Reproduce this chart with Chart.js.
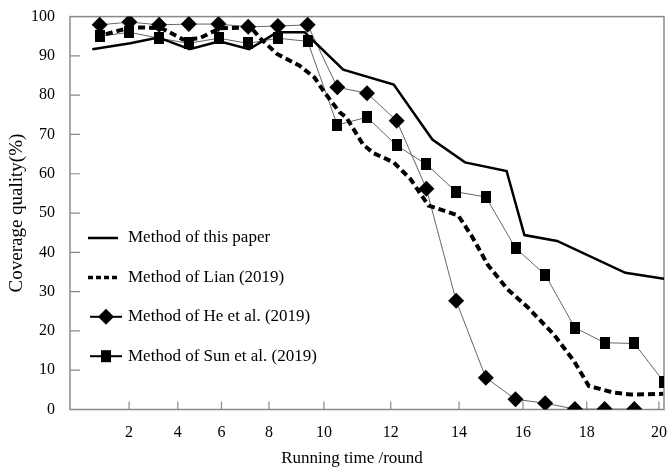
<!DOCTYPE html>
<html>
<head>
<meta charset="utf-8">
<script src="https://cdn.jsdelivr.net/npm/chart.js@4.4.0/dist/chart.umd.min.js"></script>
<style>
html, body { margin: 0; padding: 0; background: #fff; }
</style>
</head>
<body>
<canvas id="chart" width="672" height="469"></canvas>
<script>
// x in rounds, y in %
const paperX = [0.75, 2.03, 2.97, 4.03, 5.03, 6.03, 6.97, 7.9, 9.2, 10.9, 12.2, 13.3, 14.7, 15.3, 16.4, 18.7, 20];
const paperY = [91.7, 93.2, 94.7, 91.7, 93.7, 91.7, 96, 96, 86.5, 82.7, 68.7, 62.9, 60.7, 44.4, 42.9, 34.8, 33.3];

const lianX = [0.85, 1.67, 2.1, 2.57, 3.1, 3.8, 4.37, 5.03, 5.73, 6.1, 6.4, 6.97, 7.73, 8.23, 8.57, 9.07, 9.3,
  9.87, 10.23, 10.9, 11.47, 12.07, 13.07, 13.53, 14.07, 14.73, 15.4, 16.3, 16.97, 17.47, 18.3, 18.87, 19.97];
const lianY = [94.8, 96.5, 97.2, 97.2, 97, 94.2, 94.5, 97, 97.2, 97.2, 94.5, 90.5, 87.5, 84.5, 80.7, 75.7, 74.4,
  67.4, 65.2, 62.9, 58.6, 51.9, 49.4, 44.1, 36.8, 30.6, 26.1, 19, 12.3, 6, 4.3, 3.8, 4];

const heRounds = [1, 2, 3, 4, 5, 6, 7, 8, 9, 10, 11, 12, 13, 14, 15, 16, 17, 18, 19];
const heY = [97.9, 98.6, 97.9, 98.1, 98.1, 97.4, 97.6, 97.9, 82, 80.5, 73.5, 56.2, 27.7, 8.1, 2.6, 1.6, 0.1, 0.1, 0.1];

const sunRounds = [1, 2, 3, 4, 5, 6, 7, 8, 9, 10, 11, 12, 13, 14, 15, 16, 17, 18, 19, 20];
const sunY = [95, 96, 94.5, 93.2, 94.5, 93.2, 94.5, 93.7, 72.4, 74.4, 67.2, 62.4, 55.4, 54.1, 41.1, 34.3, 20.8, 17, 16.8, 7];

const labels = ['Method of this paper', 'Method of Lian (2019)', 'Method of He et al. (2019)', 'Method of Sun et al. (2019)'];

// the x axis of the original figure is not evenly ticked
const xTickValues = [1.99, 3.63, 5.1, 6.7, 8.55, 10.8, 13.1, 15.25, 17.4, 19.83];
const xTickLabels = ['2', '4', '6', '8', '10', '12', '14', '16', '18', '20'];
const yTickValues = [10, 20, 30, 40, 50, 60, 70, 80, 90];

const serif = '"Liberation Serif", "Times New Roman", serif';

function pairs(xs, ys) {
  return xs.map((x, i) => ({ x: x, y: ys[i] }));
}

// tall black square marker
const squareMark = document.createElement('canvas');
squareMark.width = 10;
squareMark.height = 12;
squareMark.getContext('2d').fillRect(0, 0, 10, 12);

const framePlugin = {
  id: 'frame',
  beforeDatasetsDraw(chart) {
    const { ctx, chartArea: a, scales } = chart;
    ctx.save();
    ctx.strokeStyle = '#8a8a8a';
    ctx.lineWidth = 1.5;
    ctx.strokeRect(a.left, a.top, a.right - a.left, a.bottom - a.top);

    ctx.lineWidth = 1.2;
    ctx.beginPath();
    yTickValues.forEach(v => {
      const y = scales.y.getPixelForValue(v);
      ctx.moveTo(a.left, y);
      ctx.lineTo(a.left + 10, y);
    });
    xTickValues.forEach(v => {
      const x = scales.x.getPixelForValue(v);
      ctx.moveTo(x, a.bottom);
      ctx.lineTo(x, a.bottom - 8);
    });
    ctx.stroke();

    ctx.fillStyle = '#000';
    ctx.font = '16px ' + serif;
    ctx.textAlign = 'center';
    ctx.textBaseline = 'middle';
    xTickValues.forEach((v, i) => {
      ctx.fillText(xTickLabels[i], scales.x.getPixelForValue(v), a.bottom + 23);
    });
    ctx.font = '17px ' + serif;
    ctx.fillText('Running time /round', 352, a.bottom + 49);
    ctx.restore();
  },
  afterDatasetsDraw(chart) {
    const { ctx, chartArea: a } = chart;
    const x0 = a.left + 18;
    ctx.save();
    ctx.font = '17px ' + serif;
    ctx.fillStyle = '#000';
    ctx.strokeStyle = '#000';
    ctx.textBaseline = 'middle';
    labels.forEach((txt, i) => {
      const y = 238 + i * 39.4;
      ctx.beginPath();
      if (i === 0) {
        ctx.lineWidth = 2.5;
        ctx.moveTo(x0, y); ctx.lineTo(x0 + 30, y);
      } else if (i === 1) {
        ctx.lineWidth = 3.5;
        ctx.setLineDash([5, 3]);
        ctx.moveTo(x0, y); ctx.lineTo(x0 + 31, y);
      } else {
        ctx.lineWidth = 2;
        ctx.moveTo(x0 + 2, y); ctx.lineTo(x0 + 34, y);
      }
      ctx.stroke();
      ctx.setLineDash([]);
      if (i === 2) {
        ctx.beginPath();
        ctx.moveTo(x0 + 18, y - 8); ctx.lineTo(x0 + 26, y);
        ctx.lineTo(x0 + 18, y + 8); ctx.lineTo(x0 + 10, y);
        ctx.closePath();
        ctx.fill();
      } else if (i === 3) {
        ctx.fillRect(x0 + 13, y - 6, 10, 12);
      }
      ctx.fillText(txt, a.left + 58, y);
    });
    ctx.restore();
  }
};

new Chart(document.getElementById('chart'), {
  type: 'line',
  data: {
    datasets: [
      {
        label: labels[0],
        data: pairs(paperX, paperY),
        borderColor: '#000',
        borderWidth: 2.5,
        pointRadius: 0
      },
      {
        label: labels[1],
        data: pairs(lianX, lianY),
        borderColor: '#000',
        borderWidth: 4,
        borderDash: [7, 4],
        pointRadius: 0
      },
      {
        label: labels[2],
        data: pairs(heRounds, heY),
        borderColor: '#666',
        borderWidth: 1,
        pointStyle: 'rectRot',
        pointRadius: 8,
        pointBackgroundColor: '#000',
        pointBorderColor: '#000',
        pointBorderWidth: 0
      },
      {
        label: labels[3],
        data: pairs(sunRounds, sunY),
        borderColor: '#666',
        borderWidth: 1,
        pointStyle: squareMark,
        pointRadius: 6
      }
    ]
  },
  options: {
    responsive: false,
    animation: false,
    layout: { padding: { top: 10, right: 2, bottom: 59.5, left: 0 } },
    plugins: {
      legend: { display: false },
      tooltip: { enabled: false }
    },
    scales: {
      x: {
        type: 'linear',
        min: 0,
        max: 20,
        display: false
      },
      y: {
        min: 0,
        max: 100,
        afterFit(scale) { scale.width = 70; },
        ticks: {
          stepSize: 10,
          padding: 7,
          color: '#000',
          font: { family: serif, size: 16 }
        },
        grid: { display: false },
        border: { display: false },
        title: {
          display: true,
          text: 'Coverage quality(%)',
          color: '#000',
          font: { family: serif, size: 19 },
          padding: { top: 6, bottom: 0 }
        }
      }
    }
  },
  plugins: [framePlugin]
});
</script>
</body>
</html>
